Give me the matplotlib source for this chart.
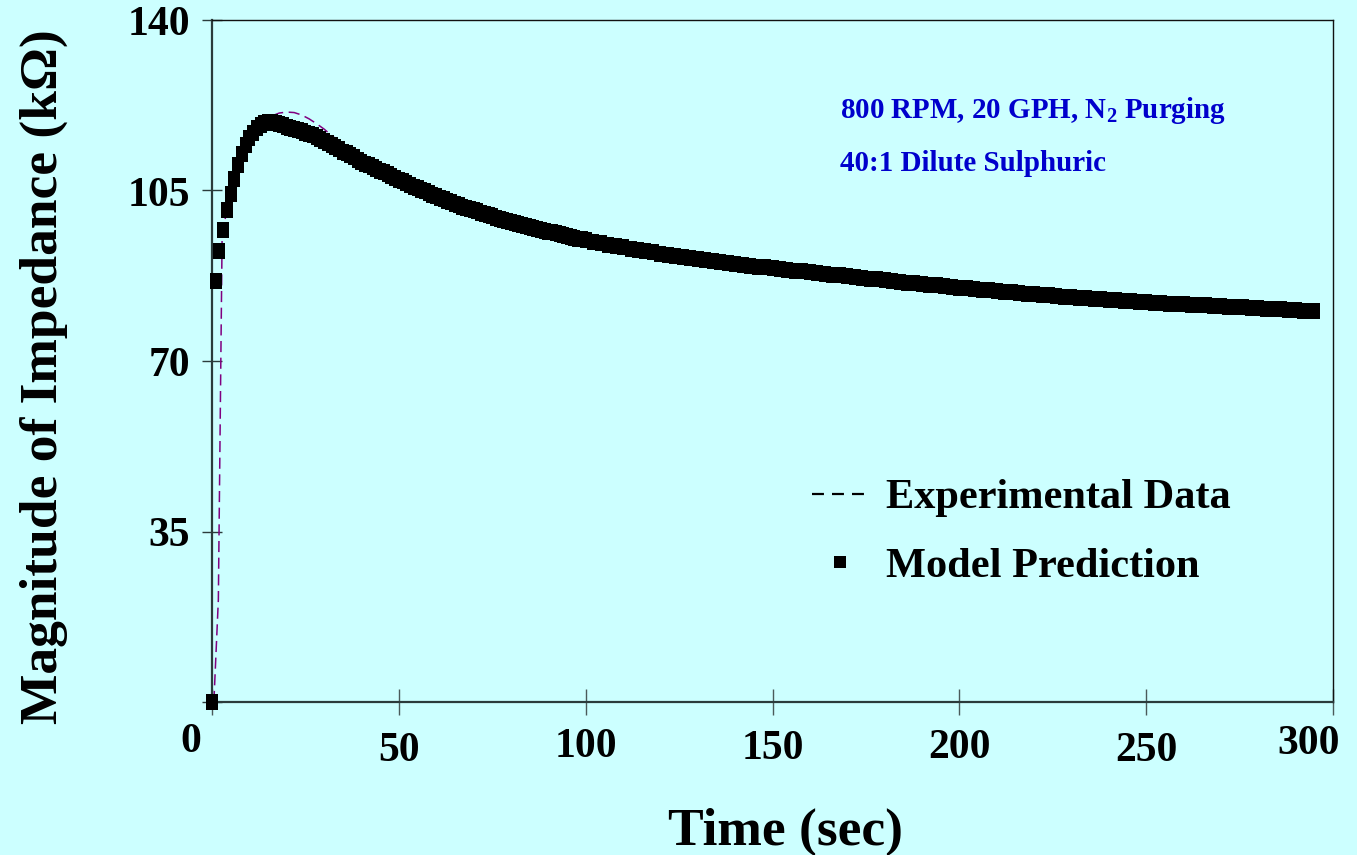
import matplotlib
matplotlib.use("Agg")
import matplotlib.pyplot as plt
from matplotlib.transforms import offset_copy

# Model prediction, |Z| in kOhm (1 s steps to 100 s, then 2 s steps)
model_time = [0, 1, 2, 3, 4, 5, 6, 7, 8, 9, 10, 11, 12, 13, 14, 15, 16, 17, 18, 19,
              20, 21, 22, 23, 24, 25, 26, 27, 28, 29, 30, 31, 32, 33, 34, 35, 36, 37, 38, 39,
              40, 41, 42, 43, 44, 45, 46, 47, 48, 49, 50, 51, 52, 53, 54, 55, 56, 57, 58, 59,
              60, 61, 62, 63, 64, 65, 66, 67, 68, 69, 70, 71, 72, 73, 74, 75, 76, 77, 78, 79,
              80, 81, 82, 83, 84, 85, 86, 87, 88, 89, 90, 91, 92, 93, 94, 95, 96, 97, 98, 99,
              100, 102, 104, 106, 108, 110, 112, 114, 116, 118, 120, 122, 124, 126, 128,
              130, 132, 134, 136, 138, 140, 142, 144, 146, 148, 150, 152, 154, 156, 158,
              160, 162, 164, 166, 168, 170, 172, 174, 176, 178, 180, 182, 184, 186, 188,
              190, 192, 194, 196, 198, 200, 202, 204, 206, 208, 210, 212, 214, 216, 218,
              220, 222, 224, 226, 228, 230, 232, 234, 236, 238, 240, 242, 244, 246, 248,
              250, 252, 254, 256, 258, 260, 262, 264, 266, 268, 270, 272, 274, 276, 278,
              280, 282, 284, 286, 288, 290, 292, 294, 295]
model_kohm = [0.0, 86.5, 92.5, 96.8, 101.0, 104.3, 107.4, 110.2, 112.5, 114.3,
              115.8, 116.9, 117.8, 118.4, 118.8, 119.0, 119.0, 118.9, 118.7, 118.4,
              118.1, 117.9, 117.7, 117.5, 117.2, 116.9, 116.6, 116.3, 115.9, 115.5,
              115.1, 114.7, 114.3, 113.9, 113.5, 113.0, 112.6, 112.2, 111.8, 111.3,
              110.9, 110.5, 110.2, 109.8, 109.4, 109.1, 108.7, 108.3, 107.9, 107.6,
              107.2, 106.9, 106.5, 106.2, 105.8, 105.5, 105.1, 104.8, 104.4, 104.1,
              103.8, 103.5, 103.2, 102.9, 102.6, 102.3, 102.0, 101.7, 101.4, 101.2,
              100.9, 100.7, 100.4, 100.2, 99.9, 99.7, 99.4, 99.2, 99.0, 98.7,
              98.5, 98.3, 98.1, 97.9, 97.7, 97.5, 97.3, 97.1, 96.9, 96.7,
              96.5, 96.4, 96.2, 96.0, 95.8, 95.7, 95.5, 95.3, 95.1, 95.0,
              94.8, 94.5, 94.2, 93.9, 93.6, 93.3, 93.0, 92.8, 92.5, 92.3,
              92.0, 91.8, 91.5, 91.3, 91.1, 90.9, 90.7, 90.5, 90.3, 90.1,
              89.9, 89.7, 89.5, 89.3, 89.2, 89.0, 88.8, 88.7, 88.5, 88.4,
              88.2, 88.0, 87.9, 87.7, 87.6, 87.4, 87.2, 87.1, 86.9, 86.8,
              86.6, 86.4, 86.3, 86.1, 86.0, 85.8, 85.7, 85.5, 85.4, 85.2,
              85.0, 84.9, 84.8, 84.6, 84.5, 84.3, 84.2, 84.1, 84.0, 83.8,
              83.7, 83.6, 83.5, 83.3, 83.2, 83.1, 83.0, 82.9, 82.8, 82.7,
              82.6, 82.5, 82.4, 82.3, 82.2, 82.1, 82.0, 81.9, 81.8, 81.7,
              81.6, 81.5, 81.4, 81.4, 81.3, 81.2, 81.1, 81.0, 81.0, 80.9,
              80.8, 80.7, 80.6, 80.6, 80.5, 80.4, 80.3, 80.3, 80.2]

# Experimental data, |Z| in kOhm
exp_time = [0.5, 1.7, 2.7, 4, 6, 8, 10, 12, 14, 16, 18, 20, 22, 24, 26, 28, 30, 32, 35,
            40, 50, 60, 80, 100, 130, 160, 200, 250, 295]
exp_kohm = [0.0, 21.0, 95.0, 101.5, 107.0, 111.5, 115.0, 117.5, 119.2, 120.3, 120.9,
            121.1, 121.0, 120.5, 119.7, 118.7, 117.6, 116.3, 114.5, 111.2, 107.0,
            103.7, 98.4, 94.8, 90.8, 88.1, 84.9, 82.1, 80.1]

x_ticks = [0, 50, 100, 150, 200, 250, 300]
y_ticks = [0, 35, 70, 105, 140]

BG = "#CCFFFF"
SERIF = "Liberation Serif"
plt.rcParams["font.family"] = SERIF
plt.rcParams["font.weight"] = "bold"
plt.rcParams["mathtext.fontset"] = "custom"
plt.rcParams["mathtext.rm"] = "Liberation Serif:bold"
plt.rcParams["mathtext.bf"] = "Liberation Serif:bold"
plt.rcParams["lines.scale_dashes"] = False

W, H = 1357, 855
fig = plt.figure(figsize=(W / 100, H / 100), dpi=100, facecolor=BG)


def fx(px):
    return px / W


def fy(py):
    return 1 - py / H


x0, x1, y0, y1 = 212, 1333, 702, 20
ax = fig.add_axes([fx(x0), fy(y0), fx(x1) - fx(x0), fy(y1) - fy(y0)])
ax.set_facecolor(BG)
ax.set_xlim(0, 300)
ax.set_ylim(0, 140)

for side in ["left", "bottom"]:
    ax.spines[side].set_linewidth(1.6)
    ax.spines[side].set_color("#2b3b3b")
for side in ["top", "right"]:
    ax.spines[side].set_linewidth(1.0)
    ax.spines[side].set_color("#111111")

ax.set_xticks(x_ticks)
ax.set_yticks(y_ticks)
ax.tick_params(axis="x", direction="inout", length=19, width=1.0, color="#4a5a5a",
               labelbottom=False)
ax.tick_params(axis="y", direction="inout", length=14, width=1.0, color="#2b3b3b",
               labelleft=False)

# experimental trace sits underneath the model markers
ax.plot(exp_time, exp_kohm, color="#800080", lw=1.1, ls=(0, (8, 4)), zorder=2,
        clip_on=False)
box = [(-1, -1.41), (1, -1.41), (1, 1.41), (-1, 1.41), (-1, -1.41)]
ax.plot(model_time, model_kohm, ls="none", marker=box, markersize=11.6,
        color="black", markeredgewidth=0, zorder=3, clip_on=False)

# tick labels, nudged (pixels right, baseline pixels below the axis)
tick_font = dict(fontsize=30, fontweight="bold", color="black")
x_nudge = {0: (-21, 50), 50: (0, 59), 100: (0, 55), 150: (0, 57), 200: (0, 56),
           250: (0, 59), 300: (-24, 52)}
for t in x_ticks:
    dx, dy = x_nudge[t]
    tr = offset_copy(ax.transData, fig=fig, x=dx, y=-dy, units="dots")
    ax.text(t, 0, str(t), transform=tr, ha="center", va="baseline", **tick_font)
for v in y_ticks[1:]:
    tr = offset_copy(ax.transData, fig=fig, x=-22, y=-15, units="dots")
    ax.text(0, v, str(v), transform=tr, ha="right", va="baseline", **tick_font)

fig.text(fx(786), fy(845), "Time (sec)", ha="center", va="baseline",
         fontsize=38.5, fontweight="bold")
fig.text(fx(44), fy(377), "Magnitude of Impedance (k\u03a9)", rotation=90,
         ha="center", va="center", fontsize=38.5, fontweight="bold")

# run conditions
blue = "#0000CC"
fig.text(fx(840), fy(118), r"800 RPM, 20 GPH, N$_{2}$ Purging", color=blue,
         fontsize=20.9, fontweight="bold", ha="left", va="baseline")
fig.text(fx(840), fy(171), "40:1 Dilute Sulphuric", color=blue,
         fontsize=20.9, fontweight="bold", ha="left", va="baseline")

# legend
fig.add_artist(plt.Line2D([fx(812), fx(864)], [fy(494), fy(494)], color="black",
                          lw=1.6, ls=(0, (8.6, 5.8))))
fig.add_artist(plt.Line2D([fx(840)], [fy(562)], marker="s", markersize=8,
                          color="black", markeredgewidth=0, ls="none"))
fig.text(fx(886), fy(508), "Experimental Data", fontsize=30.5, fontweight="bold",
         ha="left", va="baseline")
fig.text(fx(886), fy(577), "Model Prediction", fontsize=30.5, fontweight="bold",
         ha="left", va="baseline")

fig.savefig("out.png", dpi=100, facecolor=BG)
